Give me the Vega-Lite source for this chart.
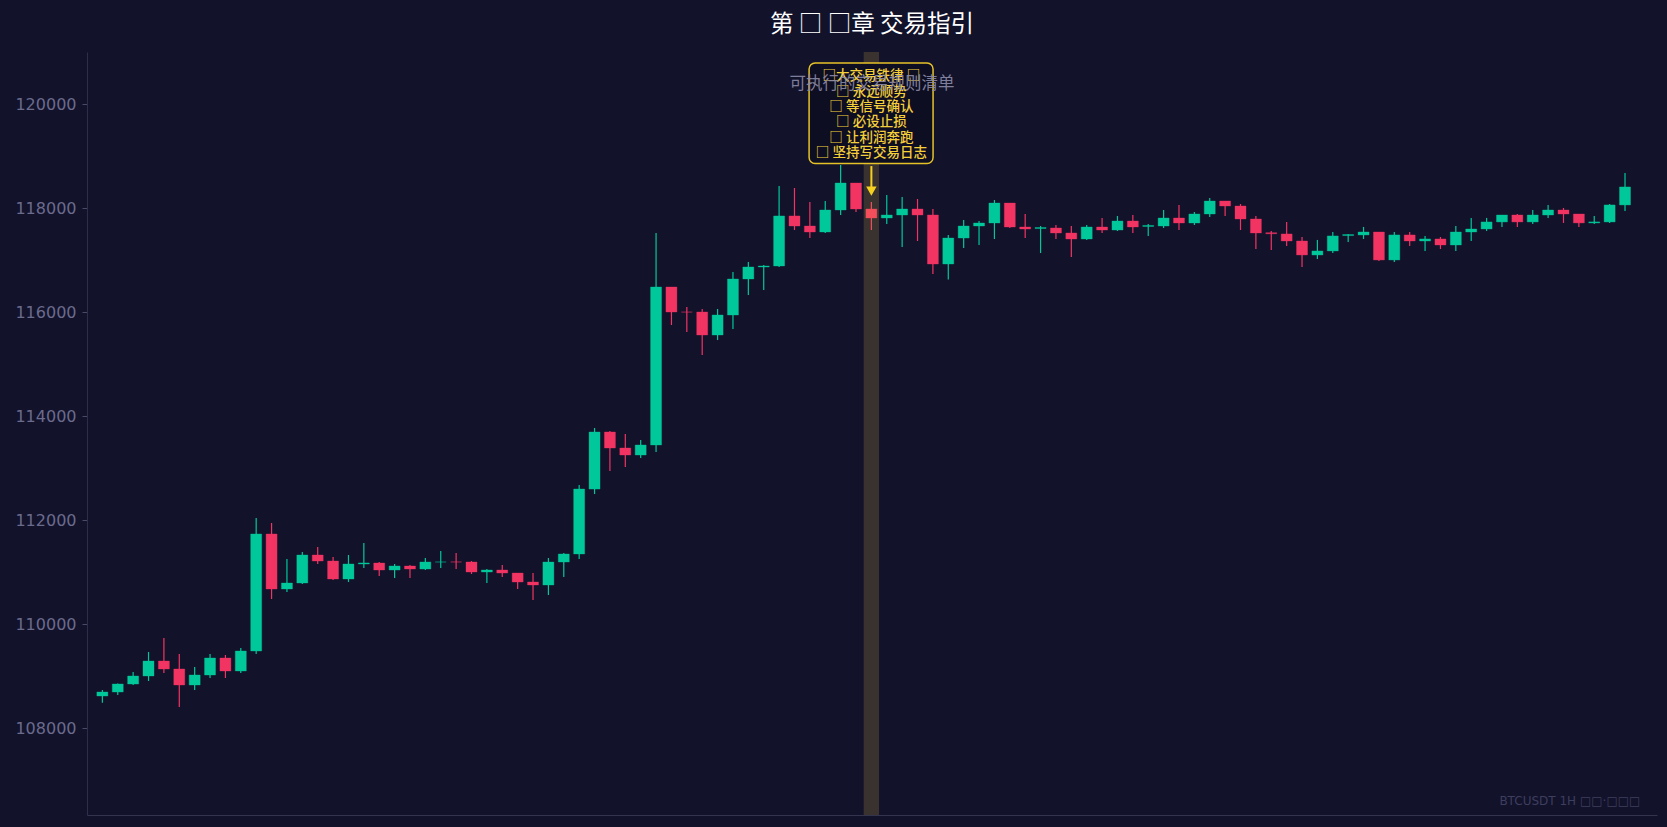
{
  "$schema": "https://vega.github.io/schema/vega-lite/v6.json",
  "width": 1570,
  "height": 763,
  "autosize": {"type": "none"},
  "padding": {"left": 87, "top": 52, "right": 10, "bottom": 12},
  "background": "#12122b",
  "title": {
    "text": "第 □ □章 交易指引",
    "font": "Noto Sans CJK SC",
    "fontSize": 23.5,
    "fontWeight": "normal",
    "color": "#ffffff",
    "anchor": "middle",
    "offset": 16
  },
  "config": {
    "view": {"stroke": null},
    "scale": {"continuousPadding": 0},
    "axis": {"title": null, "grid": false},
    "axisX": {"labels": false, "ticks": false, "domainColor": "#34344f", "domainWidth": 1},
    "axisY": {
      "labelFont": "DejaVu Sans",
      "labelFontSize": 16,
      "labelColor": "#6b6b8d",
      "tickColor": "#4a4a68",
      "tickSize": 5,
      "labelPadding": 6,
      "domainColor": "#2e2e4a",
      "domainWidth": 1
    }
  },
  "data": {
    "values": [
      {"t":0,"open":108621,"high":108737,"low":108493,"close":108698},
      {"t":1,"open":108698,"high":108860,"low":108641,"close":108852},
      {"t":2,"open":108852,"high":109083,"low":108833,"close":109006},
      {"t":3,"open":109006,"high":109467,"low":108910,"close":109294},
      {"t":4,"open":109294,"high":109737,"low":109064,"close":109141},
      {"t":5,"open":109141,"high":109429,"low":108410,"close":108833},
      {"t":6,"open":108833,"high":109179,"low":108737,"close":109025},
      {"t":7,"open":109025,"high":109429,"low":108967,"close":109352},
      {"t":8,"open":109352,"high":109410,"low":108967,"close":109102},
      {"t":9,"open":109102,"high":109544,"low":109064,"close":109487},
      {"t":10,"open":109487,"high":112044,"low":109429,"close":111737},
      {"t":11,"open":111737,"high":111948,"low":110487,"close":110679},
      {"t":12,"open":110679,"high":111256,"low":110621,"close":110794},
      {"t":13,"open":110794,"high":111390,"low":110775,"close":111333},
      {"t":14,"open":111333,"high":111487,"low":111160,"close":111217},
      {"t":15,"open":111217,"high":111294,"low":110852,"close":110871},
      {"t":16,"open":110871,"high":111333,"low":110814,"close":111160},
      {"t":17,"open":111160,"high":111564,"low":111083,"close":111180},
      {"t":18,"open":111179,"high":111198,"low":110929,"close":111044},
      {"t":19,"open":111044,"high":111160,"low":110890,"close":111121},
      {"t":20,"open":111121,"high":111140,"low":110890,"close":111063},
      {"t":21,"open":111063,"high":111275,"low":111044,"close":111198},
      {"t":22,"open":111198,"high":111410,"low":111083,"close":111198},
      {"t":23,"open":111199,"high":111371,"low":111063,"close":111198},
      {"t":24,"open":111198,"high":111217,"low":110967,"close":111006},
      {"t":25,"open":111006,"high":111063,"low":110794,"close":111044},
      {"t":26,"open":111044,"high":111140,"low":110910,"close":110986},
      {"t":27,"open":110986,"high":110986,"low":110679,"close":110813},
      {"t":28,"open":110813,"high":110986,"low":110467,"close":110756},
      {"t":29,"open":110756,"high":111275,"low":110563,"close":111198},
      {"t":30,"open":111198,"high":111371,"low":110910,"close":111352},
      {"t":31,"open":111352,"high":112679,"low":111256,"close":112602},
      {"t":32,"open":112601,"high":113775,"low":112505,"close":113698},
      {"t":33,"open":113698,"high":113717,"low":112948,"close":113390},
      {"t":34,"open":113390,"high":113659,"low":113025,"close":113255},
      {"t":35,"open":113255,"high":113544,"low":113198,"close":113448},
      {"t":36,"open":113448,"high":117524,"low":113313,"close":116486},
      {"t":37,"open":116486,"high":116486,"low":115755,"close":116005},
      {"t":38,"open":116005,"high":116101,"low":115621,"close":116004},
      {"t":39,"open":116005,"high":116063,"low":115178,"close":115563},
      {"t":40,"open":115563,"high":116063,"low":115467,"close":115948},
      {"t":41,"open":115948,"high":116774,"low":115678,"close":116640},
      {"t":42,"open":116640,"high":116967,"low":116332,"close":116871},
      {"t":43,"open":116871,"high":116909,"low":116428,"close":116890},
      {"t":44,"open":116890,"high":118428,"low":116871,"close":117852},
      {"t":45,"open":117852,"high":118390,"low":117582,"close":117659},
      {"t":46,"open":117659,"high":118121,"low":117428,"close":117544},
      {"t":47,"open":117544,"high":118140,"low":117525,"close":117967},
      {"t":48,"open":117967,"high":118832,"low":117871,"close":118486},
      {"t":49,"open":118486,"high":118486,"low":117928,"close":117986},
      {"t":50,"open":117986,"high":118121,"low":117582,"close":117813},
      {"t":51,"open":117813,"high":118255,"low":117698,"close":117871},
      {"t":52,"open":117871,"high":118217,"low":117255,"close":117986},
      {"t":53,"open":117986,"high":118178,"low":117371,"close":117871},
      {"t":54,"open":117871,"high":117986,"low":116736,"close":116928},
      {"t":55,"open":116928,"high":117486,"low":116630,"close":117428},
      {"t":56,"open":117428,"high":117774,"low":117236,"close":117659},
      {"t":57,"open":117659,"high":117755,"low":117294,"close":117717},
      {"t":58,"open":117717,"high":118159,"low":117409,"close":118101},
      {"t":59,"open":118101,"high":118101,"low":117621,"close":117640},
      {"t":60,"open":117640,"high":117890,"low":117428,"close":117601},
      {"t":61,"open":117610,"high":117659,"low":117140,"close":117630},
      {"t":62,"open":117621,"high":117678,"low":117409,"close":117525},
      {"t":63,"open":117525,"high":117659,"low":117063,"close":117409},
      {"t":64,"open":117409,"high":117678,"low":117390,"close":117640},
      {"t":65,"open":117640,"high":117813,"low":117525,"close":117582},
      {"t":66,"open":117582,"high":117851,"low":117563,"close":117755},
      {"t":67,"open":117755,"high":117871,"low":117525,"close":117640},
      {"t":68,"open":117650,"high":117698,"low":117467,"close":117670},
      {"t":69,"open":117659,"high":117967,"low":117621,"close":117813},
      {"t":70,"open":117813,"high":118063,"low":117582,"close":117717},
      {"t":71,"open":117717,"high":117928,"low":117678,"close":117890},
      {"t":72,"open":117890,"high":118198,"low":117832,"close":118140},
      {"t":73,"open":118140,"high":118140,"low":117851,"close":118044},
      {"t":74,"open":118044,"high":118082,"low":117582,"close":117794},
      {"t":75,"open":117794,"high":117852,"low":117218,"close":117525},
      {"t":76,"open":117530,"high":117564,"low":117198,"close":117510},
      {"t":77,"open":117506,"high":117737,"low":117275,"close":117371},
      {"t":78,"open":117371,"high":117448,"low":116871,"close":117102},
      {"t":79,"open":117102,"high":117391,"low":117025,"close":117179},
      {"t":80,"open":117179,"high":117544,"low":117140,"close":117468},
      {"t":81,"open":117475,"high":117506,"low":117352,"close":117495},
      {"t":82,"open":117487,"high":117641,"low":117410,"close":117544},
      {"t":83,"open":117544,"high":117544,"low":116987,"close":117006},
      {"t":84,"open":117006,"high":117544,"low":116968,"close":117487},
      {"t":85,"open":117487,"high":117544,"low":117275,"close":117371},
      {"t":86,"open":117371,"high":117467,"low":117179,"close":117410},
      {"t":87,"open":117410,"high":117448,"low":117217,"close":117294},
      {"t":88,"open":117294,"high":117660,"low":117179,"close":117544},
      {"t":89,"open":117544,"high":117814,"low":117371,"close":117602},
      {"t":90,"open":117602,"high":117814,"low":117564,"close":117737},
      {"t":91,"open":117737,"high":117871,"low":117640,"close":117871},
      {"t":92,"open":117871,"high":117890,"low":117640,"close":117737},
      {"t":93,"open":117737,"high":117967,"low":117698,"close":117871},
      {"t":94,"open":117871,"high":118064,"low":117814,"close":117967},
      {"t":95,"open":117967,"high":118006,"low":117718,"close":117890},
      {"t":96,"open":117890,"high":117890,"low":117640,"close":117718},
      {"t":97,"open":117718,"high":117852,"low":117698,"close":117738},
      {"t":98,"open":117737,"high":118083,"low":117718,"close":118064},
      {"t":99,"open":118064,"high":118679,"low":117948,"close":118410}
    ]
  },
  "layer": [
    {
      "mark": {"type": "rule", "strokeWidth": 1.2},
      "encoding": {
        "x": {"field": "t", "type": "quantitative", "scale": {"domain": [-1, 101.08], "nice": false, "zero": false, "padding": 0}},
        "y": {"field": "low", "type": "quantitative", "scale": {"domain": [106333, 121005], "nice": false, "zero": false}, "axis": {"values": [108000, 110000, 112000, 114000, 116000, 118000, 120000], "format": "d"}},
        "y2": {"field": "high"},
        "color": {"condition": {"test": "datum.close >= datum.open", "value": "#00c89a"}, "value": "#f23462"}
      }
    },
    {
      "mark": {"type": "bar", "size": 11, "strokeWidth": 1, "strokeOpacity": 0.35},
      "encoding": {
        "x": {"field": "t", "type": "quantitative"},
        "y": {"field": "open", "type": "quantitative"},
        "y2": {"field": "close"},
        "fill": {"condition": {"test": "datum.close >= datum.open", "value": "#00c89a"}, "value": "#f23462"},
        "stroke": {"condition": {"test": "datum.close >= datum.open", "value": "#00c89a"}, "value": "#f23462"}
      }
    },
    {
      "data": {"values": [{}]},
      "mark": {"type": "rect", "fill": "#f5c542", "opacity": 0.18},
      "encoding": {
        "x": {"datum": 49.5, "type": "quantitative"},
        "x2": {"datum": 50.5},
        "y": {"datum": 106333, "type": "quantitative"},
        "y2": {"datum": 121005}
      }
    },
    {
      "data": {"values": [{}]},
      "mark": {"type": "rule", "color": "#f5d020", "strokeWidth": 2},
      "encoding": {
        "x": {"datum": 50, "type": "quantitative"},
        "y": {"datum": 118812, "type": "quantitative"},
        "y2": {"datum": 118380}
      }
    },
    {
      "data": {"values": [{}]},
      "mark": {"type": "point", "shape": "triangle-down", "filled": true, "size": 110, "color": "#f5d020", "opacity": 1},
      "encoding": {
        "x": {"datum": 50, "type": "quantitative"},
        "y": {"datum": 118330, "type": "quantitative"}
      }
    },
    {
      "data": {"values": [{}]},
      "mark": {"type": "rect", "fill": "#0e0e22", "stroke": "#e6c229", "strokeWidth": 1.5, "cornerRadius": 6},
      "encoding": {
        "x": {"datum": 45.95, "type": "quantitative"},
        "x2": {"datum": 54.01},
        "y": {"datum": 118860, "type": "quantitative"},
        "y2": {"datum": 120794}
      }
    },
    {
      "data": {"values": [{}]},
      "mark": {
        "type": "text",
        "text": ["□大交易铁律 □", "□ 永远顺势", "□ 等信号确认", "□ 必设止损", "□ 让利润奔跑", "□ 坚持写交易日志"],
        "font": "Noto Sans CJK SC",
        "fontSize": 13.5,
        "fontWeight": 500,
        "lineHeight": 15.3,
        "align": "center",
        "baseline": "middle",
        "color": "#f5cf3a"
      },
      "encoding": {
        "x": {"datum": 50, "type": "quantitative"},
        "y": {"datum": 120534, "type": "quantitative"}
      }
    },
    {
      "data": {"values": [{}]},
      "mark": {
        "type": "text",
        "text": "可执行的交易规则清单",
        "font": "Noto Sans CJK SC",
        "fontSize": 16.5,
        "align": "center",
        "baseline": "middle",
        "color": "#8b8ba8",
        "opacity": 0.9
      },
      "encoding": {
        "x": {"datum": 50.04, "type": "quantitative"},
        "y": {"datum": 120390, "type": "quantitative"}
      }
    },
    {
      "data": {"values": [{}]},
      "mark": {
        "type": "text",
        "text": "BTCUSDT 1H  □□·□□□",
        "font": "DejaVu Sans",
        "fontSize": 12,
        "align": "right",
        "baseline": "middle",
        "color": "#3e3e5e"
      },
      "encoding": {
        "x": {"datum": 100, "type": "quantitative"},
        "y": {"datum": 106602, "type": "quantitative"}
      }
    }
  ]
}
